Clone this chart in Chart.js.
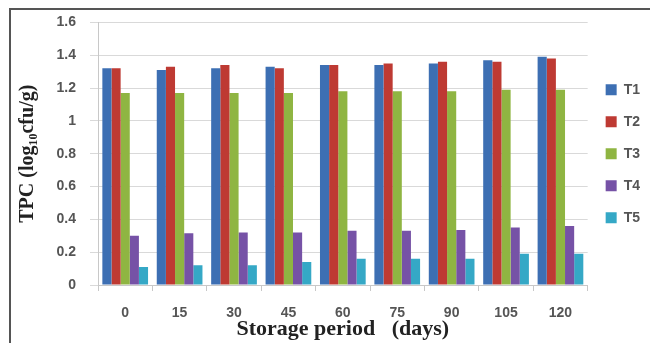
<!DOCTYPE html>
<html>
<head>
<meta charset="utf-8">
<script src="https://cdn.jsdelivr.net/npm/chart.js@4.4.1/dist/chart.umd.min.js"></script>
<style>
  html, body { margin: 0; padding: 0; background: #fff; }
  #wrap { position: relative; width: 650px; height: 343px; overflow: hidden; }
  #frame { position: absolute; left: 9px; top: 8px; width: 700px; height: 400px;
           border-left: 2px solid #555; border-top: 2px solid #555; box-sizing: border-box; }
  canvas { position: absolute; left: 0; top: 0; }
</style>
</head>
<body>
<div id="wrap">
  <div id="frame"></div>
  <canvas id="myChart" width="650" height="343"></canvas>
</div>
<script>
// storage period (days)
const days = ["0", "15", "30", "45", "60", "75", "90", "105", "120"];

// TPC values, log10 cfu/g
const t1 = [1.32, 1.31, 1.32, 1.33, 1.34, 1.34, 1.35, 1.37, 1.39];
const t2 = [1.32, 1.33, 1.34, 1.32, 1.34, 1.35, 1.36, 1.36, 1.38];
const t3 = [1.17, 1.17, 1.17, 1.17, 1.18, 1.18, 1.18, 1.19, 1.19];
const t4 = [0.30, 0.315, 0.32, 0.32, 0.33, 0.33, 0.335, 0.35, 0.36];
const t5 = [0.11, 0.12, 0.12, 0.14, 0.16, 0.16, 0.16, 0.19, 0.19];

const yTicks = [0, 0.2, 0.4, 0.6, 0.8, 1, 1.2, 1.4, 1.6];

const tickFont = { family: "'Liberation Sans', Arial, sans-serif", size: 14, weight: "bold" };
const titleFont = { family: "'Liberation Serif', 'Times New Roman', serif", size: 20, weight: "bold" };

const data = {
  labels: days,
  datasets: [
    { label: "T1", data: t1, backgroundColor: "#3d6fb3" },
    { label: "T2", data: t2, backgroundColor: "#be3a33" },
    { label: "T3", data: t3, backgroundColor: "#8fb542" },
    { label: "T4", data: t4, backgroundColor: "#7652a6" },
    { label: "T5", data: t5, backgroundColor: "#35a8c6" },
  ],
};

const config = {
  type: "bar",
  data,
  options: {
    responsive: false,
    animation: false,
    datasets: { bar: { categoryPercentage: 0.84, barPercentage: 1 } },
    layout: { padding: { left: 16, top: 21, right: 0, bottom: 0 } },
    plugins: {
      tooltip: { enabled: false },
      legend: {
        position: "right",
        fullSize: false,
        labels: {
          boxWidth: 11,
          boxHeight: 11,
          padding: 18,
          color: "#555",
          font: tickFont,
        },
      },
    },
    scales: {
      x: {
        afterFit: (scale) => { scale.height = 58; },
        grid: { drawOnChartArea: false, drawTicks: true, offset: true, tickLength: 6, color: "#c8c8c8" },
        border: { color: "#c8c8c8" },
        ticks: { color: "#555", font: tickFont, padding: 14 },
        title: {
          display: true,
          text: "Storage period   (days)",
          color: "#222",
          font: { family: titleFont.family, size: 22, weight: "bold" },
          padding: { top: 0, bottom: 0 },
        },
      },
      y: {
        min: 0,
        max: 1.6,
        afterFit: (scale) => { scale.width = 82; },
        afterBuildTicks: (scale) => { scale.ticks = yTicks.map(v => ({ value: v })); },
        grid: { color: "#d9d9d9", tickLength: 8 },
        border: { color: "#c8c8c8" },
        ticks: { color: "#555", font: tickFont, padding: 14, callback: (v) => String(v) },
        title: {
          display: true,
          text: "TPC (log₁₀cfu/g)",
          color: "#222",
          font: titleFont,
          padding: { top: 0, bottom: 2 },
        },
      },
    },
  },
};

let myChart = new Chart(document.getElementById("myChart"), config);
</script>
</body>
</html>
